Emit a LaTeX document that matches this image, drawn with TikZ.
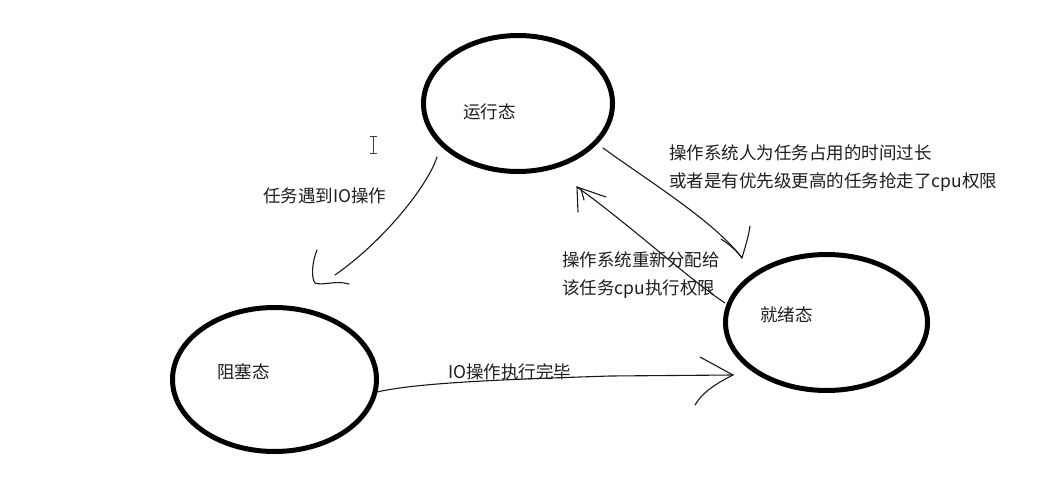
\documentclass[tikz,border=0pt]{standalone}
\usepackage{fontspec}
\usetikzlibrary{shapes.geometric}
\newfontfamily\cjk{Noto Sans CJK SC}
\definecolor{txt}{HTML}{1E1E1E}
\tikzset{
  state/.style={ellipse, draw=black, line width=5pt, inner sep=0pt},
  lbl/.style={anchor=base west, inner sep=0pt, text=txt, font=\cjk\fontsize{17.5}{20}\selectfont},
  pen/.style={draw=black!90, line width=1.1pt, line cap=round, line join=round},
}
\begin{document}
\begin{tikzpicture}[x=1pt,y=-1pt]
\useasboundingbox[fill=white] (0,0) rectangle (1051,489);

% states
\node[state, minimum width=189pt, minimum height=136pt] (run) at (518,103.5) {};
\node[state, minimum width=204pt, minimum height=144pt] (blk) at (274.5,379.5) {};
\node[state, minimum width=202pt, minimum height=136pt] (rdy) at (826.5,322.5) {};

\node[lbl] (runT) at (463,119) {运行态};
\node[lbl] (blkT) at (217,378) {阻塞态};
\node[lbl] (rdyT) at (760,321) {就绪态};

% labels
\node[lbl] (l1) at (263,202) {任务遇到IO操作};
\node[lbl] (l2a) at (669,160) {操作系统人为任务占用的时间过长};
\node[lbl] (l2b) at (669,188) {或者是有优先级更高的任务抢走了cpu权限};
\node[lbl] (l3a) at (562,266.5) {操作系统重新分配给};
\node[lbl] (l3b) at (562,294.5) {该任务cpu执行权限};
\node[lbl] (l4) at (448,378.5) {IO操作执行完毕};

% connector end points
\coordinate (a1s) at (437,157);
\coordinate (a1e) at (335,275);
\coordinate (a1t) at (315,283);
\coordinate (a2s) at (603,148);
\coordinate (a2e) at (742,258);
\coordinate (a3s) at (725,303);
\coordinate (a3e) at (577,187);
\coordinate (a4s) at (377,392);
\coordinate (a4e) at (733,375);

% running -> blocked
\draw[pen] (a1s) .. controls (428,185) and (385,240) .. (a1e);
\draw[pen] (317,250) .. controls (312,262) and (311,278) .. (a1t)
           .. controls (322,286) and (336,280) .. (349,284);

% running -> ready
\draw[pen] (a2s) .. controls (650,182) and (715,222) .. (a2e);
\draw[pen] (750,226) .. controls (748,240) and (744,250) .. (a2e);
\draw[pen] (721,239) .. controls (730,245) and (737,251) .. (a2e);

% ready -> running
\draw[pen] (a3s) .. controls (690,280) and (630,225) .. (a3e);
\draw[pen] (a3e) -- (606,197);
\draw[pen] (a3e) -- (578,212);
\draw[pen] (581,189) -- (584,200);

% blocked -> ready
\draw[pen] (a4s) .. controls (420,382) and (520,379) .. (610,376) -- (a4e);
\draw[pen] (700,357) -- (a4e);
\draw[pen] (a4e) .. controls (715,384) and (702,393) .. (695,405);

% text cursor
\draw[draw=black!75, line width=1pt] (373,137) -- (373,154)
  (369.5,137) -- (376.5,137) (369.5,154) -- (376.5,154);
\end{tikzpicture}
\end{document}
